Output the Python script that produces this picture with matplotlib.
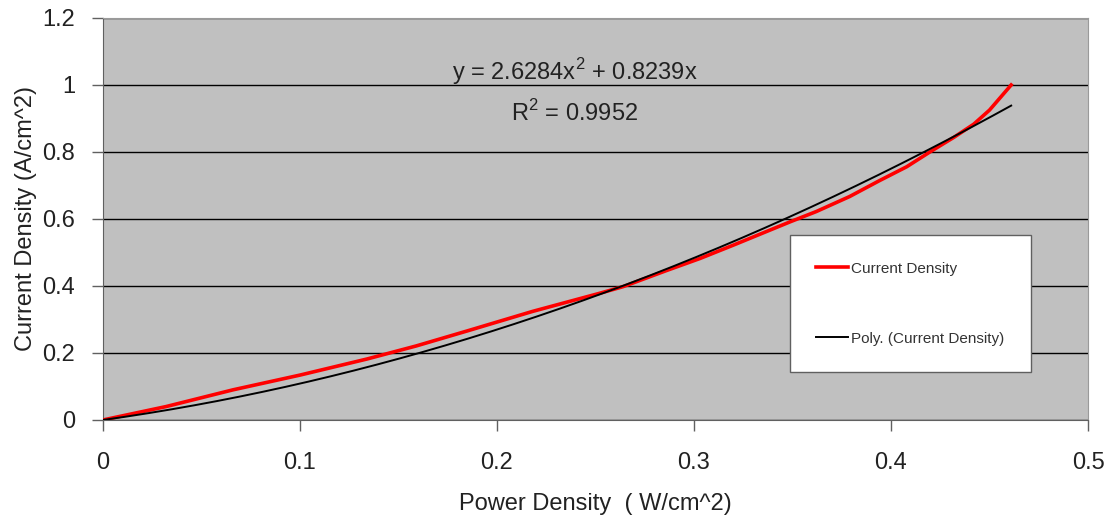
import numpy as np
import matplotlib.pyplot as plt

# === data ===
power_density = [0, 0.032, 0.066, 0.1, 0.134, 0.159, 0.185, 0.218, 0.252,
                 0.264, 0.286, 0.303, 0.320, 0.349, 0.362, 0.379, 0.394,
                 0.408, 0.420, 0.432, 0.442, 0.450, 0.461]
current_density = [0, 0.040, 0.090, 0.134, 0.182, 0.221, 0.266, 0.324, 0.378,
                   0.398, 0.446, 0.482, 0.522, 0.592, 0.622, 0.667, 0.714,
                   0.756, 0.801, 0.844, 0.883, 0.925, 1.0]
# trendline shown on the chart: y = 2.6284x^2 + 0.8239x
poly_coef = [2.6284, 0.8239, 0.0]
x_ticks = [0, 0.1, 0.2, 0.3, 0.4, 0.5]
y_ticks = [0, 0.2, 0.4, 0.6, 0.8, 1.0, 1.2]
y_tick_labels = ['0', '0.2', '0.4', '0.6', '0.8', '1', '1.2']

plt.rcParams['font.family'] = ['Liberation Sans', 'DejaVu Sans']
txt = '#222222'

fig = plt.figure(figsize=(11.11, 5.21), dpi=100)
ax = fig.add_axes([0.0927, 0.1939, 0.8866, 0.7716])
ax.set_facecolor('#c0c0c0')

fit_x = np.linspace(0, power_density[-1], 200)
fit_y = np.polyval(poly_coef, fit_x)

ax.plot(power_density, current_density, color='#ff0000', lw=2.6,
        label='Current Density', zorder=3, solid_joinstyle='round')
ax.plot(fit_x, fit_y, color='black', lw=1.4,
        label='Poly. (Current Density)', zorder=4)

ax.set_xlim(0, 0.5)
ax.set_ylim(0, 1.2)
ax.set_xticks(x_ticks)
ax.set_xticklabels([f'{v:g}' for v in x_ticks])
ax.set_yticks(y_ticks)
ax.set_yticklabels(y_tick_labels)
ax.grid(axis='y', color='black', lw=1)
ax.set_axisbelow(True)
ax.tick_params(axis='both', direction='out', length=8, width=1,
               color='#606060', labelsize=17, labelcolor=txt)
ax.tick_params(axis='x', pad=15)
ax.tick_params(axis='y', pad=12)

for side in ['left', 'bottom']:
    ax.spines[side].set_color('#606060')
for side in ['top', 'right']:
    ax.spines[side].set_color('#9a9a9a')

ax.set_xlabel('Power Density  ( W/cm^2)', fontsize=17, color=txt, labelpad=14)
ax.set_ylabel('Current Density (A/cm^2)', fontsize=17, color=txt, labelpad=4)

# trendline equation
ax.text(0.2396, 1.039, r'y = 2.6284x$^{\mathregular{2}}$ + 0.8239x',
        fontsize=17, color=txt, ha='center', va='center')
ax.text(0.2396, 0.916, r'R$^{\mathregular{2}}$ = 0.9952', fontsize=17,
        color=txt, ha='center', va='center')

leg = ax.legend(loc='upper left', bbox_to_anchor=(0.697, 0.46), fontsize=11,
                frameon=True, fancybox=False, borderpad=1.75, labelspacing=3.65,
                handlelength=2.1, handletextpad=0.15, borderaxespad=0)
leg.get_frame().set_edgecolor('#606060')
leg.get_frame().set_facecolor('white')
leg.get_frame().set_alpha(1)
for t in leg.get_texts():
    t.set_color('#333333')

fig.savefig('out.png', dpi=100)
